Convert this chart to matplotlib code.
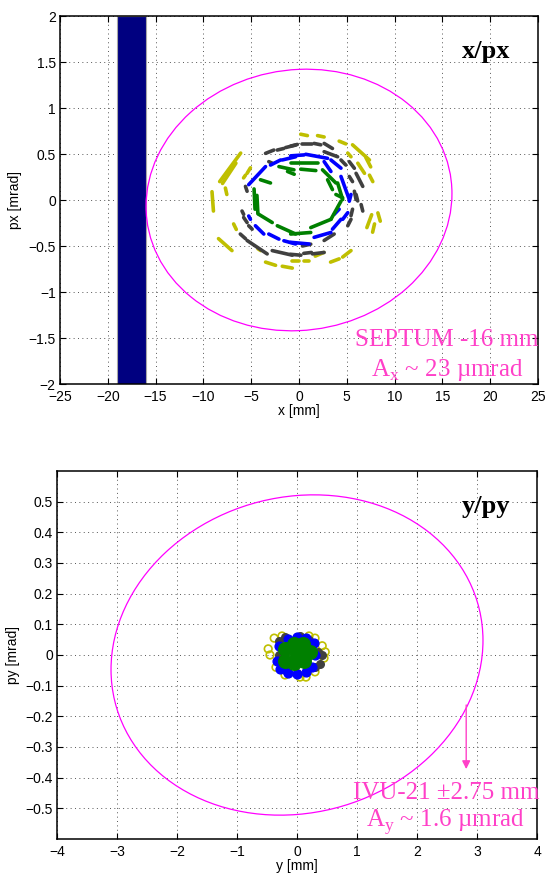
import matplotlib
matplotlib.use("Agg")
import matplotlib.pyplot as plt
from matplotlib.patches import Ellipse, Rectangle

plt.rcParams['font.family'] = ['Liberation Sans', 'DejaVu Sans']
plt.rcParams['mathtext.fontset'] = 'custom'
plt.rcParams['mathtext.rm'] = 'Liberation Serif'

# ---------------- data ----------------
# x/px phase space: dashes of tracked particles (x1, px1, x2, px2)
yellow_dashes = [
    (0.18, 0.715, 0.88, 0.70), (1.94, 0.70, 2.63, 0.685), (4.2, 0.64, 4.9, 0.61),
    (5.6, 0.60, 7.37, 0.435), (5.1, 0.51, 5.44, 0.47), (7.0, 0.46, 7.5, 0.36),
    (6.15, 0.40, 6.85, 0.29), (7.37, 0.27, 7.72, 0.20),
    (7.6, -0.16, 7.1, -0.30), (8.25, -0.14, 8.5, -0.23), (7.9, -0.26, 7.7, -0.35),
    (4.57, -0.62, 5.44, -0.55), (3.3, -0.675, 4.2, -0.64), (1.7, -0.61, 2.6, -0.57),
    (0.53, -0.66, 1.05, -0.66), (-0.7, -0.66, 0.0, -0.66), (-1.75, -0.72, -0.7, -0.74),
    (-3.5, -0.675, -2.45, -0.71), (-4.3, -0.53, -4.0, -0.55),
    (-8.42, -0.42, -7.01, -0.55), (-6.84, -0.26, -6.56, -0.32),
    (-9.1, 0.09, -8.95, -0.12), (-7.7, 0.13, -7.55, 0.06),
    (-8.3, 0.20, -6.1, 0.51), (-8.0, 0.18, -6.6, 0.40),
    (-5.08, 0.35, -5.43, 0.29), (-5.6, 0.27, -5.8, 0.24),
]
gray_dashes = [
    (-3.5, 0.507, -2.63, 0.543), (-2.27, 0.543, -1.6, 0.56), (-1.4, 0.57, -0.35, 0.597),
    (-0.87, 0.586, -0.17, 0.604), (0.36, 0.604, 1.41, 0.604), (1.58, 0.615, 2.28, 0.60),
    (2.63, 0.615, 3.5, 0.56), (2.63, 0.525, 4.04, 0.47), (4.39, 0.435, 4.9, 0.38),
    (5.26, 0.417, 5.79, 0.345), (5.26, 0.256, 5.6, 0.20), (5.97, 0.29, 6.67, 0.148),
    (5.79, 0.095, 5.97, 0.005),
    (5.97, 0.06, 6.14, -0.01), (6.5, -0.05, 6.67, -0.12), (5.6, -0.10, 5.44, -0.17),
    (5.44, -0.21, 5.1, -0.28), (3.68, -0.37, 2.63, -0.44),
    (0.36, -0.50, 1.23, -0.48), (1.41, -0.586, 2.63, -0.57), (-0.9, -0.59, 0.2, -0.60),
    (0.5, -0.58, 1.3, -0.57), (-2.8, -0.55, -0.7, -0.60), (-5.43, -0.44, -3.33, -0.586),
    (-6.14, -0.37, -5.6, -0.42),
    (-5.96, -0.12, -5.79, -0.156), (-5.79, -0.19, -5.43, -0.245), (-5.26, -0.28, -4.9, -0.317),
    (-5.6, 0.148, -5.43, 0.095), (-3.16, 0.417, -2.8, 0.40),
]
blue_dashes = [
    (-0.35, 0.47, -1.75, 0.435), (-1.93, 0.435, -2.98, 0.38), (-3.5, 0.363, -5.26, 0.167),
    (-5.26, -0.174, -5.08, -0.21), (-4.56, -0.28, -3.68, -0.37), (-3.16, -0.37, -2.1, -0.425),
    (-1.58, -0.443, -0.35, -0.478), (-0.87, -0.46, 1.05, -0.478), (1.58, -0.406, 3.34, -0.353),
    (3.5, -0.317, 4.39, -0.21), (4.57, -0.21, 5.1, -0.138), (3.68, -0.156, 4.2, -0.10),
    (5.26, -0.013, 5.44, 0.06), (4.39, 0.256, 5.26, 0.005),
    (-0.87, 0.48, 0.53, 0.49), (0.7, 0.497, 2.99, 0.453), (3.34, 0.435, 4.39, 0.346),
    (2.63, 0.417, 3.34, 0.31),
]
green_dashes = [
    (-2.1, 0.363, -0.53, 0.328), (-1.2, 0.31, -0.5, 0.28), (-4.03, 0.22, -2.98, 0.185),
    (-4.7, 0.12, -4.6, -0.10), (-4.4, 0.05, -4.3, -0.15),
    (-4.2, -0.156, -2.8, -0.245), (-2.27, -0.28, -0.35, -0.37), (-0.87, -0.37, 1.23, -0.353),
    (1.23, -0.30, 3.34, -0.21), (3.34, -0.21, 4.39, -0.013), (3.86, 0.06, 4.57, 0.024),
    (-0.87, 0.40, 1.94, 0.40), (0.18, 0.335, 1.76, 0.32), (2.46, 0.328, 3.86, 0.185),
    (2.99, 0.22, 3.5, 0.113), (4.04, 0.185, 4.57, 0.005),
]

# y/py phase space: particle cloud points (y, py)
yellow_y = [-0.48, -0.45, -0.38, -0.25, 0.2, 0.3, 0.42, 0.47, 0.45, 0.3, 0.05, 0.15, -0.2, -0.35]
yellow_py = [0.02, 0.0, 0.055, 0.062, 0.062, 0.055, 0.03, 0.01, -0.01, -0.055, -0.072, -0.072, -0.065, -0.04]
gray_y = [-0.3, -0.2, 0.05, 0.2, 0.35, 0.42, 0.38, 0.3, 0.0, -0.2, -0.3]
gray_py = [0.045, 0.058, 0.062, 0.05, 0.01, 0.0, -0.03, -0.04, -0.06, -0.05, 0.0]
blue_y = [-0.3, -0.33, -0.28, -0.15, 0.0, 0.15, 0.25, 0.3, 0.28, 0.15, 0.0, -0.15]
blue_py = [0.03, -0.02, -0.045, -0.058, -0.062, -0.055, -0.04, 0.0, 0.04, 0.055, 0.058, 0.052]
green_y = [-0.2, -0.2, -0.05, -0.05, 0.1, 0.12, 0.22, 0.0]
green_py = [0.02, -0.02, 0.035, -0.025, 0.035, -0.02, 0.01, 0.0]

# acceptance ellipses (semi-axes, tilt in degrees)
x_acc_a, x_acc_b, x_acc_tilt = 16.0, 1.42, 0.25
y_acc_a, y_acc_b, y_acc_tilt = 3.1, 0.52, 0.9
septum_x0, septum_x1 = -19.0, -16.0
arrow_x, arrow_y0, arrow_y1 = 2.82, -0.163, -0.372

xticks_top = [-25, -20, -15, -10, -5, 0, 5, 10, 15, 20, 25]
yticks_top = [-2, -1.5, -1, -0.5, 0, 0.5, 1, 1.5, 2]
xticks_bot = [-4, -3, -2, -1, 0, 1, 2, 3, 4]
yticks_bot = [-0.5, -0.4, -0.3, -0.2, -0.1, 0, 0.1, 0.2, 0.3, 0.4, 0.5]

C_YEL = '#BFBF00'
C_GRAY = '#404040'
C_BLUE = '#0000FF'
C_GREEN = '#008000'
C_MAG = '#FF00FF'
C_TXT = '#FF40C8'

fig = plt.figure(figsize=(5.46, 8.73), dpi=100)
ax1 = fig.add_axes([60/546, 1-384/873, 478/546, 368/873])
ax2 = fig.add_axes([57/546, 1-839/873, 480/546, 368/873])


def style(ax):
    ax.grid(True, linestyle=(0, (1, 3.5)), color='#555555', linewidth=0.7)
    ax.set_axisbelow(True)
    ax.tick_params(direction='in', top=True, right=True, length=4, width=0.8,
                   labelsize=10)
    ax.tick_params(axis='x', pad=4.5)
    ax.tick_params(axis='y', pad=3)
    for s in ax.spines.values():
        s.set_linewidth(1.1)


def fmt(vals):
    return [f'{v:g}'.replace('-', '\u2212') for v in vals]


# ---- top panel ----
style(ax1)
ax1.add_patch(Rectangle((septum_x0, -2), septum_x1 - septum_x0, 4,
                        facecolor='#000080', edgecolor='#A8A8A8', linewidth=0.8, zorder=2))
ax1.add_patch(Ellipse((0, 0), 2 * x_acc_a, 2 * x_acc_b, angle=x_acc_tilt,
                      fill=False, edgecolor=C_MAG, linewidth=0.9, zorder=3))
for dashes, col in [(yellow_dashes, C_YEL), (gray_dashes, C_GRAY),
                    (blue_dashes, C_BLUE), (green_dashes, C_GREEN)]:
    for x1, y1, x2, y2 in dashes:
        ax1.plot([x1, x2], [y1, y2], color=col, linewidth=2.6,
                 solid_capstyle='round', zorder=4)
ax1.set_xlim(-25, 25)
ax1.set_ylim(-2, 2)
ax1.set_xticks(xticks_top)
ax1.set_yticks(yticks_top)
ax1.set_xticklabels(fmt(xticks_top))
ax1.set_yticklabels(fmt(yticks_top))
ax1.set_xlabel('x [mm]', fontsize=10, labelpad=0)
ax1.set_ylabel('px [mrad]', fontsize=10, labelpad=5)
ax1.text(19.6, 1.61, 'x/px', fontsize=19, fontweight='bold', family='Liberation Serif',
         ha='center', va='center')
ax1.text(15.5, -1.52, 'SEPTUM -16 mm', fontsize=18, family='Liberation Serif',
         color=C_TXT, ha='center', va='center')
ax1.text(15.5, -1.85, 'A$_\\mathregular{x}$ ~ 23 \u00b5mrad', fontsize=18,
         family='Liberation Serif', color=C_TXT, ha='center', va='center')

# ---- bottom panel ----
style(ax2)
ax2.add_patch(Ellipse((0, 0), 2 * y_acc_a, 2 * y_acc_b, angle=y_acc_tilt,
                      fill=False, edgecolor=C_MAG, linewidth=0.9, zorder=3))
ax2.scatter(yellow_y, yellow_py, s=30, facecolor='none', edgecolor=C_YEL, linewidth=1.2, zorder=4)
ax2.scatter(gray_y, gray_py, s=30, color=C_GRAY, zorder=5)
ax2.scatter(blue_y, blue_py, s=40, color=C_BLUE, zorder=6)
ax2.scatter(green_y, green_py, s=95, color=C_GREEN, zorder=7)
ax2.annotate('', xy=(arrow_x, arrow_y1), xytext=(arrow_x, arrow_y0),
             arrowprops=dict(arrowstyle='-|>', color=C_TXT, lw=1.0,
                             mutation_scale=12, shrinkA=0, shrinkB=0), zorder=8)
ax2.set_xlim(-4, 4)
ax2.set_ylim(-0.6, 0.6)
ax2.set_xticks(xticks_bot)
ax2.set_yticks(yticks_bot)
ax2.set_xticklabels(fmt(xticks_bot))
ax2.set_yticklabels(fmt(yticks_bot))
ax2.set_xlabel('y [mm]', fontsize=10, labelpad=0)
ax2.set_ylabel('py [mrad]', fontsize=10, labelpad=4)
ax2.text(3.15, 0.483, 'y/py', fontsize=19, fontweight='bold', family='Liberation Serif',
         ha='center', va='center')
ax2.text(2.48, -0.45, 'IVU-21 \u00b12.75 mm', fontsize=18, family='Liberation Serif',
         color=C_TXT, ha='center', va='center', zorder=9)
ax2.text(2.48, -0.545, 'A$_\\mathregular{y}$ ~ 1.6 \u00b5mrad', fontsize=18,
         family='Liberation Serif', color=C_TXT, ha='center', va='center', zorder=9)

fig.savefig('out.png', dpi=100)
